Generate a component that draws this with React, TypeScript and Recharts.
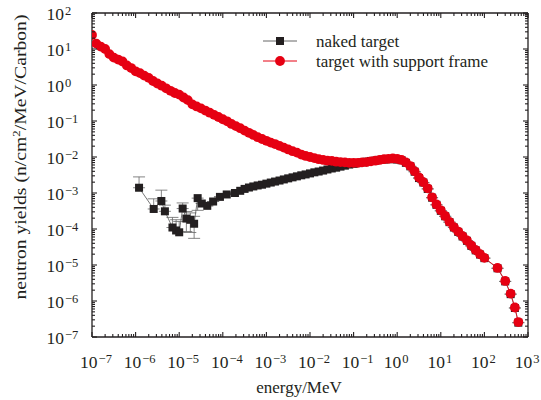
import React from 'react';
import { ScatterChart, Scatter, XAxis, YAxis, ErrorBar, Legend } from 'recharts';

// ---------- data ----------
const redEnergy = [
  1e-7, 1.26e-7, 1.58e-7, 2.0e-7, 2.51e-7, 3.16e-7, 3.98e-7, 5.01e-7, 6.31e-7, 7.94e-7,
  1e-6, 1.26e-6, 1.58e-6, 2.0e-6, 2.51e-6, 3.16e-6, 3.98e-6, 5.01e-6, 6.31e-6, 7.94e-6,
  1e-5, 1.26e-5, 1.58e-5, 2.0e-5, 2.51e-5, 3.16e-5, 3.98e-5, 5.01e-5, 6.31e-5, 7.94e-5,
  1e-4, 1.26e-4, 1.58e-4, 2.0e-4, 2.51e-4, 3.16e-4, 3.98e-4, 5.01e-4, 6.31e-4, 7.94e-4,
  1e-3, 1.26e-3, 1.58e-3, 2.0e-3, 2.51e-3, 3.16e-3, 3.98e-3, 5.01e-3, 6.31e-3, 7.94e-3,
  1e-2, 1.26e-2, 1.58e-2, 2.0e-2, 2.51e-2, 3.16e-2, 3.98e-2, 5.01e-2, 6.31e-2, 7.94e-2,
  0.1, 0.126, 0.158, 0.2, 0.251, 0.316, 0.398, 0.501, 0.631, 0.794,
  1, 1.26, 1.58, 2.0, 2.51, 3.16, 3.98, 5.01, 6.31, 7.94,
  10, 12.6, 15.8, 20, 25.1, 31.6, 39.8, 50.1, 63.1, 79.4,
  100, 200, 300, 400, 500, 600,
];
const redYield = [
  24.5, 14.1, 11.7, 10.0, 7.2, 5.75, 5.1, 4.5, 3.5, 2.95,
  2.4, 2.14, 1.82, 1.58, 1.29, 1.1, 0.955, 0.81, 0.69, 0.6,
  0.54, 0.45, 0.38, 0.29, 0.254, 0.224, 0.195, 0.17, 0.148, 0.129,
  0.112, 0.098, 0.083, 0.072, 0.063, 0.054, 0.047, 0.041, 0.0355, 0.0316,
  0.0282, 0.0251, 0.0229, 0.0204, 0.0182, 0.0162, 0.0145, 0.0132, 0.0117, 0.0107,
  0.01, 0.0093, 0.0087, 0.0083, 0.0079, 0.0078, 0.0074, 0.0072, 0.0071, 0.0069,
  0.0069, 0.0069, 0.0071, 0.0072, 0.0076, 0.0079, 0.0083, 0.0087, 0.0089, 0.0091,
  0.0089, 0.0083, 0.0071, 0.0056, 0.004, 0.0027, 0.002, 0.00135, 0.00076, 0.00048,
  0.00033, 0.00023, 0.000158, 0.000112, 8.5e-5, 6.3e-5, 4.8e-5, 3.5e-5, 2.6e-5, 2.0e-5,
  1.58e-5, 8.3e-6, 3.6e-6, 1.6e-6, 6.6e-7, 2.6e-7,
];

const nakedEnergy = [
  1.2e-6, 2.6e-6, 3.9e-6, 4.7e-6, 7.0e-6, 8.5e-6, 1.0e-5, 1.2e-5, 1.46e-5, 1.8e-5,
  2.2e-5, 2.65e-5, 3.3e-5, 4.4e-5, 6.0e-5, 8.6e-5, 1.23e-4, 1.9e-4,
  2.51e-4, 3.16e-4, 3.98e-4, 5.01e-4, 6.31e-4, 7.94e-4,
  1e-3, 1.26e-3, 1.58e-3, 2.0e-3, 2.51e-3, 3.16e-3, 3.98e-3, 5.01e-3, 6.31e-3, 7.94e-3,
  1e-2, 1.26e-2, 1.58e-2, 2.0e-2, 2.51e-2, 3.16e-2, 3.98e-2, 5.01e-2, 6.31e-2, 7.94e-2,
  0.1, 0.126, 0.158, 0.2, 0.251, 0.316, 0.398, 0.501, 0.631, 0.794,
  1, 1.26, 1.58, 2.0, 2.51, 3.16, 3.98, 5.01, 6.31, 7.94,
  10, 12.6, 15.8, 20, 25.1, 31.6, 39.8, 50.1, 63.1, 79.4,
  100, 200, 300, 400, 500, 600,
];
const nakedYield = [
  1.4e-3, 3.6e-4, 6.0e-4, 3.1e-4, 1.1e-4, 9.1e-5, 8.1e-5, 3.7e-4, 1.95e-4, 1.8e-4,
  1.4e-4, 7.2e-4, 5.1e-4, 4.4e-4, 5.8e-4, 7.8e-4, 9.1e-4, 1.0e-3,
  1.15e-3, 1.3e-3, 1.42e-3, 1.52e-3, 1.62e-3, 1.7e-3,
  1.82e-3, 1.95e-3, 2.08e-3, 2.22e-3, 2.38e-3, 2.55e-3, 2.72e-3, 2.9e-3, 3.1e-3, 3.28e-3,
  3.5e-3, 3.75e-3, 3.95e-3, 4.2e-3, 4.5e-3, 4.8e-3, 5.05e-3, 5.4e-3, 5.75e-3, 6.17e-3,
  6.46e-3, 6.76e-3, 7.08e-3, 7.41e-3, 7.76e-3, 7.94e-3, 8.32e-3, 8.51e-3, 8.71e-3, 8.71e-3,
  8.51e-3, 8.1e-3, 6.9e-3, 5.5e-3, 3.9e-3, 2.6e-3, 1.95e-3, 1.3e-3, 7.4e-4, 4.7e-4,
  3.2e-4, 2.25e-4, 1.55e-4, 1.1e-4, 8.3e-5, 6.2e-5, 4.7e-5, 3.4e-5, 2.55e-5, 1.95e-5,
  1.55e-5, 8.1e-6, 3.5e-6, 1.55e-6, 6.4e-7, 2.5e-7,
];
// asymmetric error bars of the first (low-energy) naked-target points
const nakedErrLow = [0, 0, 0, 0, 0, 0, 0, 0, 1.1e-4, 1.0e-4, 8.5e-5, 3.9e-4];
const nakedErrHigh = [1.4e-3, 3.3e-4, 6.0e-4, 1.5e-4, 1.0e-4, 9.0e-5, 8.0e-5, 1.6e-4, 1.1e-4, 1.0e-4, 8.5e-5, 0];

const xMajorTicks = [1e-7, 1e-6, 1e-5, 1e-4, 1e-3, 1e-2, 1e-1, 1, 10, 100, 1000];
const xTickExponents = ['−7', '−6', '−5', '−4', '−3', '−2', '−1', '0', '1', '2', '3'];
const yMajorTicks = [1e-7, 1e-6, 1e-5, 1e-4, 1e-3, 1e-2, 1e-1, 1, 10, 100];
const yTickExponents = ['−7', '−6', '−5', '−4', '−3', '−2', '−1', '0', '1', '2'];

const seriesNames = ['naked target', 'target with support frame'];

// ---------- styles ----------
const RED = '#e60012';
const BLACK = '#231f20';
const AXIS = '#231f20';
const FONT = '"Liberation Serif", "Times New Roman", serif';
const TICK_FS = 17.5;
const SUP_FS = 12.5;

const withMinors = (majors: number[]) => {
  const out: number[] = [];
  majors.forEach((m, i) => {
    out.push(m);
    if (i < majors.length - 1) for (let k = 2; k <= 9; k++) out.push(m * k);
  });
  return out;
};
const xTicks = withMinors(xMajorTicks);
const yTicks = withMinors(yMajorTicks);

const redData = redEnergy.map((e, i) => ({ x: e, y: redYield[i] }));
const nakedData = nakedEnergy.map((e, i) => ({
  x: e,
  y: nakedYield[i],
  err: [nakedErrLow[i] ?? 0, nakedErrHigh[i] ?? 0],
}));

const MAJ = 5;
const MIN = 3;

const makeXTick = (side: 'bottom' | 'top') => (props: any) => {
  const { x, y, payload } = props;
  const idx = xMajorTicks.indexOf(payload.value);
  const major = idx >= 0;
  const len = major ? MAJ : MIN;
  const dir = side === 'bottom' ? -1 : 1;
  const exp = major ? xTickExponents[idx] : '';
  const shift = exp.startsWith('−') ? 4 : -1;
  return (
    <g>
      <line x1={x} x2={x} y1={y} y2={y + dir * len} stroke={AXIS} strokeWidth={1.1} />
      {major && side === 'bottom' && (
        <text x={x + shift} y={y + 30.5} fontFamily={FONT} fontSize={TICK_FS} fill="#231f20" textAnchor="middle">
          10
          <tspan dx={1} dy={-5} fontSize={SUP_FS}>{exp}</tspan>
        </text>
      )}
    </g>
  );
};

const makeYTick = (side: 'left' | 'right') => (props: any) => {
  const { x, y, payload } = props;
  const idx = yMajorTicks.indexOf(payload.value);
  const major = idx >= 0;
  const len = major ? MAJ : MIN;
  const dir = side === 'left' ? 1 : -1;
  return (
    <g>
      <line x1={x} x2={x + dir * len} y1={y} y2={y} stroke={AXIS} strokeWidth={1.1} />
      {major && side === 'left' && (
        <text x={x - 45.5} y={y + 7} fontFamily={FONT} fontSize={TICK_FS} fill="#231f20" textAnchor="start">
          10
          <tspan dx={1} dy={-5} fontSize={SUP_FS}>{yTickExponents[idx]}</tspan>
        </text>
      )}
    </g>
  );
};

const Square = (props: any) => {
  const { cx, cy } = props;
  if (cx == null || cy == null) return null;
  return <rect x={cx - 4} y={cy - 4} width={8} height={8} fill={BLACK} />;
};
const Dot = (props: any) => {
  const { cx, cy } = props;
  if (cx == null || cy == null) return null;
  return <circle cx={cx} cy={cy} r={4.9} fill={RED} />;
};

const LegendContent = () => (
  <svg width={541} height={80} style={{ display: 'block' }}>
    <line x1={263} x2={297} y1={41} y2={41} stroke="#666" strokeWidth={1} />
    <rect x={276} y={37} width={8} height={8} fill={BLACK} />
    <text x={316} y={47} fontFamily={FONT} fontSize={17} fill="#231f20">{seriesNames[0]}</text>
    <line x1={263} x2={297} y1={61} y2={61} stroke={RED} strokeWidth={1} />
    <circle cx={280} cy={61} r={4.9} fill={RED} />
    <text x={316} y={67} fontFamily={FONT} fontSize={17} fill="#231f20">{seriesNames[1]}</text>
  </svg>
);

const axisCommon = {
  type: 'number' as const,
  scale: 'log' as const,
  allowDataOverflow: true,
  interval: 0 as const,
  tickSize: 0,
  tickMargin: 0,
  tickLine: false,
  axisLine: { stroke: AXIS, strokeWidth: 1.3 },
};

export default function App() {
  return (
    <div style={{ position: 'absolute', left: 0, top: 0, width: 541, height: 400, background: '#fff' }}>
      <ScatterChart width={541} height={400} margin={{ top: 12, right: 12, bottom: 62, left: 91 }}>
        <XAxis xAxisId="b" dataKey="x" domain={[1e-7, 1000]} ticks={xTicks} height={1} tick={makeXTick('bottom')} {...axisCommon} />
        <XAxis xAxisId="t" orientation="top" dataKey="x" domain={[1e-7, 1000]} ticks={xTicks} height={1} tick={makeXTick('top')} {...axisCommon} />
        <YAxis yAxisId="l" dataKey="y" domain={[1e-7, 100]} ticks={yTicks} width={1} tick={makeYTick('left')} {...axisCommon} />
        <YAxis yAxisId="r" orientation="right" dataKey="y" domain={[1e-7, 100]} ticks={yTicks} width={1} tick={makeYTick('right')} {...axisCommon} />
        <Scatter
          name={seriesNames[0]}
          xAxisId="b"
          yAxisId="l"
          data={nakedData}
          line={{ stroke: '#555', strokeWidth: 0.8 }}
          shape={Square}
          isAnimationActive={false}
        >
          <ErrorBar dataKey="err" direction="y" width={6} stroke="#666" strokeWidth={0.8} />
        </Scatter>
        <Scatter
          name={seriesNames[1]}
          xAxisId="t"
          yAxisId="r"
          data={redData}
          line={{ stroke: RED, strokeWidth: 0.8 }}
          shape={Dot}
          isAnimationActive={false}
        />
        <Legend
          layout="vertical"
          align="center"
          verticalAlign="middle"
          content={LegendContent}
          wrapperStyle={{ left: 0, top: 0, width: 541, height: 80 }}
        />
        <text
          transform="translate(26,157) rotate(-90)"
          textAnchor="middle"
          fontFamily={FONT}
          fontSize={17}
          fill="#231f20"
          textLength={285}
          lengthAdjust="spacingAndGlyphs"
        >
          neutron yields (n/cm<tspan dy={-6} fontSize={11}>2</tspan><tspan dy={6}>/MeV/Carbon)</tspan>
        </text>
        <text x={299} y={393} textAnchor="middle" fontFamily={FONT} fontSize={17} fill="#231f20">
          energy/MeV
        </text>
      </ScatterChart>
    </div>
  );
}
